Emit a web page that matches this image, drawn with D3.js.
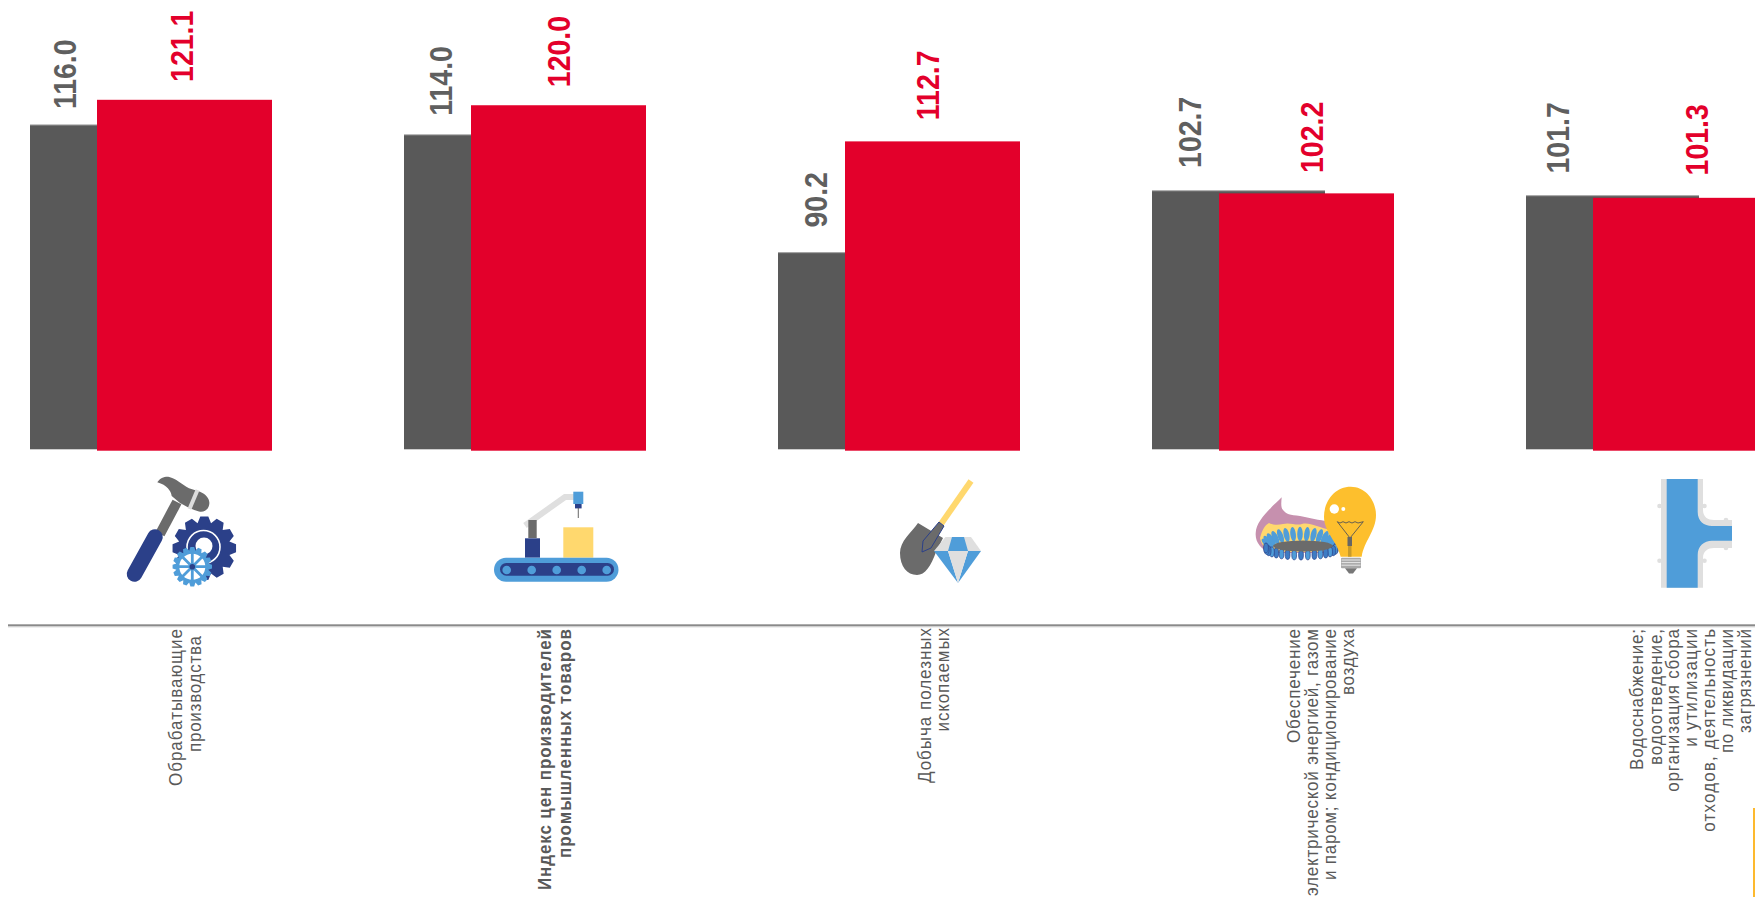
<!DOCTYPE html>
<html><head><meta charset="utf-8">
<script src="https://cdn.jsdelivr.net/npm/d3@7/dist/d3.min.js"></script>
<style>html,body{margin:0;padding:0;background:#fff;overflow:hidden}svg{display:block}text{font-family:"Liberation Sans",Arial,sans-serif}</style>
</head><body><svg id="c" width="1755" height="897"></svg>
<script>
const categories = ["Обрабатывающие производства","Индекс цен производителей промышленных товаров","Добыча полезных ископаемых","Обеспечение электрической энергией, газом и паром; кондиционирование воздуха","Водоснабжение; водоотведение, организация сбора и утилизации отходов, деятельность по ликвидации загрязнений"];
const series2021 = [116.0,114.0,90.2,102.7,101.7];
const series2022 = [121.1,120.0,112.7,102.2,101.3];
const categoryLines = [
 ["Обрабатывающие","производства"],
 ["Индекс цен производителей","промышленных товаров"],
 ["Добыча полезных","ископаемых"],
 ["Обеспечение","электрической энергией, газом","и паром; кондиционирование","воздуха"],
 ["Водоснабжение;","водоотведение,","организация сбора","и  утилизации","отходов,  деятельность","по ликвидации","загрязнений"]
];
const boldCategory = [false,true,false,false,false];

/* layout tables, kept apart from the data */
const lineX = [[175,194],[544.6,564],[924.5,942],[1293,1311.6,1329.5,1347],[1636,1655,1672.7,1690.7,1708,1726.7,1744]];
const lineLen = [[157,116],[261,229],[155,103.5],[114,267,251,66],[141,136,162.7,117.7,202.7,124,104]];
const lineEnd = [[629,636],[629,629],[628,628],[629,629,629,629],[629,629,629,629,629,629,629]];
const grayLabelX = [35,37,38,38,32], redLabelX = [152,155,150,160,171];
const grayLabelGap = [50.8,54,53,58.6,58], redLabelGap = [53.5,53.7,56,56,58];

const GRAY="#595959", RED="#e3002b", TXT="#595959";
const NAVY="#2b4089", SKY="#4f9dd9", SAND="#ffd86e", LG="#dfdfdf", MID="#6b6b6b", AMBER="#fdbf2d", PINK="#c690ae";

const svg=d3.select("#c");
const x=d3.scaleBand().domain(categories).range([30,30+374*categories.length]);
const y=d3.scaleLinear().domain([50.5,121.1]).range([449.3,99.8]);
const rows=categories.map((c,i)=>({c,i,a:series2021[i],b:series2022[i]}));

// bars
svg.append("g").selectAll("rect").data(rows).join("rect")
 .attr("x",d=>x(d.c)).attr("width",173).attr("y",d=>y(d.a)).attr("height",d=>y(50.5)-y(d.a)).attr("fill",GRAY);
svg.append("g").selectAll("rect").data(rows).join("rect")
 .attr("x",d=>x(d.c)).attr("width",173).attr("y",d=>y(d.a)-.6).attr("height",1).attr("fill","#9a9a9a");
svg.append("g").selectAll("rect").data(rows).join("rect")
 .attr("x",d=>x(d.c)+67).attr("width",175).attr("y",d=>y(d.b)).attr("height",d=>y(50.5)-y(d.b)+1.4).attr("fill",RED);

// value labels
const vlabel=(key,col,lx,gap)=>svg.append("g").selectAll("text").data(rows).join("text")
 .attr("transform",d=>`translate(${x(d.c)+lx[d.i]},${y(d[key])-gap[d.i]}) rotate(-90) scale(1,1.1)`)
 .attr("text-anchor","middle").attr("dy","0.35em").attr("font-size",28.5).attr("font-weight",700).attr("fill",col)
 .text(d=>d[key].toFixed(1));
vlabel("a","#5f5f5f",grayLabelX,grayLabelGap);
vlabel("b",RED,redLabelX,redLabelGap);

// axis rule
svg.append("rect").attr("x",8).attr("y",624.3).attr("width",1747).attr("height",2).attr("fill","#8a8a8a");
svg.append("rect").attr("x",8).attr("y",626.3).attr("width",1747).attr("height",1).attr("fill","#c9c9c9");

// category labels
rows.forEach(r=>{
 categoryLines[r.i].forEach((t,k)=>{
  svg.append("text").attr("transform",`translate(${lineX[r.i][k]},${lineEnd[r.i][k]}) rotate(-90) scale(1,1.12)`)
   .attr("text-anchor","end").attr("dy","0.35em").attr("font-size",17)
   .attr("font-weight",boldCategory[r.i]?700:400).attr("fill",TXT)
   .attr("textLength",lineLen[r.i][k]).attr("lengthAdjust","spacing").text(t);
 });
});

// corner accent
svg.append("rect").attr("x",1753).attr("y",808).attr("width",2).attr("height",89).attr("fill","#fdb92e");

// --- icons ---
function gear(cx,cy,ro,ri,n){
 const p=[];const st=2*Math.PI/n;
 for(let i=0;i<n;i++){const a=i*st;
  [[ri,-.5],[ro,-.24],[ro,.24],[ri,.5]].forEach(([r,f])=>p.push([cx+r*Math.cos(a+f*st),cy+r*Math.sin(a+f*st)]));}
 return "M"+p.map(q=>q.join(",")).join("L")+"Z";
}
const ic=svg.append("g");
const P=(d,f,extra={})=>{const e=ic.append("path").attr("d",d).attr("fill",f);for(const k in extra)e.attr(k,extra[k]);return e;};
const R=(a,b,w,h,f,rx=0)=>ic.append("rect").attr("x",a).attr("y",b).attr("width",w).attr("height",h).attr("fill",f).attr("rx",rx);
const C=(a,b,r,f)=>ic.append("circle").attr("cx",a).attr("cy",b).attr("r",r).attr("fill",f);
const L=(d,s,w,cap="butt")=>P(d,"none",{stroke:s,"stroke-width":w,"stroke-linecap":cap,"stroke-linejoin":"miter"});

// hammer + gears
L("M177,502L160,534",MID,10);
P("M157.3,482.3C160,478 164,476.5 168.3,476.7C175,478 182,484 189,488.3L200,491.7C206,494 210,499 209.3,504C208.5,510 204,512.5 199,511.5C193,510 187,507 180,503L171.7,496C171,491 167,485 157.3,482.3Z",MID);
L("M197.5,490L189.5,509","#dcdcdc",4);
L("M155,537L134.5,574",NAVY,15.5,"round");
P(gear(204.3,548.3,32,26,12),NAVY);
ic.append("circle").attr("cx",203.5).attr("cy",547).attr("r",16.5).attr("fill","none").attr("stroke","#fff").attr("stroke-width",1.6);
C(204,546,8.5,"#fff");
P(gear(192.3,566.7,19.8,16.2,16),SKY);
C(192.3,566.7,13,"#fff");
L("M192.3,553V580.5M178.5,566.7H206M182.5,557L202,576.5M202,557L182.5,576.5",SKY,2.8);
C(192.3,566.7,2.8,NAVY);

// conveyor
L("M525,525.5L565,497H574",LG,6);
R(528.3,520,8.4,18,MID);
R(525,538.3,15,19.4,NAVY);
R(563.3,527.3,30,30.4,SAND);
R(573.3,491.7,10,12.3,SKY);
R(575,504,6.6,4.4,NAVY);
R(577.8,508,.9,10,"#555");
R(494,557.7,124.5,24,SKY,12);
R(500,563,114,12.7,NAVY,6.3);
[506.7,531.7,556.7,581.7,606.7].forEach(a=>C(a,570,4.3,SKY));

// shovel + diamond
L("M971,481L941,524",SAND,6);
P("M918,523L943,538L936,552C931,566 925,575 917,575C907,575 900,566 900,553C900,541 911,533 918,523Z",MID);
P("M939,522L944,526L931,548L922,552L923,541Z",MID,{stroke:NAVY,"stroke-width":1});
P("M945.5,537H971L981,551H934Z",LG);
P("M952,537H964L968,551H948Z",SKY);
P("M934,551H948L958,583Z",SKY);
P("M968,551H981L958,583Z",SKY);
P("M948,551H968L958,583Z",LG);

// burner + bulb
P("M1281.7,497.3C1281,504 1281,508 1283,510C1286,514 1290,515 1300,516C1310,518 1318,520 1330,521.7L1330,553H1270C1261,549 1255,542 1255.7,533C1256,520 1272,507 1281.7,497.3Z",PINK);
P("M1260,538C1262,530 1265,525 1269,523C1273,525 1278,525 1283,524C1290,522 1296,526 1302,524C1310,522 1318,528 1332,530V552H1272C1265,549 1261,544 1260,538Z",SAND);
d3.range(0,15).forEach(i=>{
 const a=Math.PI*(1.03+i*0.94/14), bx=1300+33*Math.cos(a), by=545+11*Math.sin(a);
 ic.append("ellipse").attr("cx",bx).attr("cy",by).attr("rx",2.8).attr("ry",7.2)
  .attr("fill",SKY).attr("transform",`rotate(${(i-7)*6.5},${bx},${by})`);
});
d3.range(0,17).forEach(i=>{
 const a=Math.PI*(i/16), bx=1301+35*Math.cos(a), by=548+7*Math.sin(a);
 ic.append("ellipse").attr("cx",bx).attr("cy",by).attr("rx",2.4).attr("ry",5).attr("fill",i%2?SKY:"#3e7cc4").attr("stroke",NAVY).attr("stroke-width",.7);
});
ic.append("ellipse").attr("cx",1303).attr("cy",546).attr("rx",30).attr("ry",5.5).attr("fill",MID);
P("M1350.7,486.7C1366,486.7 1376,501 1376,515C1376,531 1364,541 1361.7,556.7H1340.7C1337,541 1324,532 1324,516.7C1324,501 1335,486.7 1350.7,486.7Z",AMBER);
C(1334.3,509,4.7,"#fff"); C(1343.3,509,2,"#fff");
L("M1337.3,521.7L1340,523L1343,521.7L1346,523L1349,521.7L1352,523L1355,521.7L1358,523L1363.3,521.7L1350,538L1337.3,521.7","#555",.9);
R(1347.5,537,4.5,9,"#666"); R(1348,546,3.5,10.7,"#c79a2a");
R(1341,557.7,20,10.5,"#a8a8a8",1);
L("M1341.5,560H1360.5M1341.5,562.6H1360.5M1341.5,565.2H1360.5","#eee",.9);
P("M1345,568.2H1357L1353,573.5H1349Z","#777");

// pipe
P("M1661,479H1703V510C1703,517 1708,520 1714,520H1732V548H1714C1708,548 1703,551 1703,558V587.7H1661Z",LG);
P("M1666.7,479H1697.7V512C1697.7,521 1704,526 1712,526H1732V540.7H1712C1704,540.7 1697.7,546 1697.7,555V587.7H1666.7Z",SKY);
[[1659.5,506],[1704.5,506],[1659.5,560.7],[1704.5,560.7],[1726,520],[1726,548]].forEach(p=>C(p[0],p[1],2.3,LG));
</script></body></html>
